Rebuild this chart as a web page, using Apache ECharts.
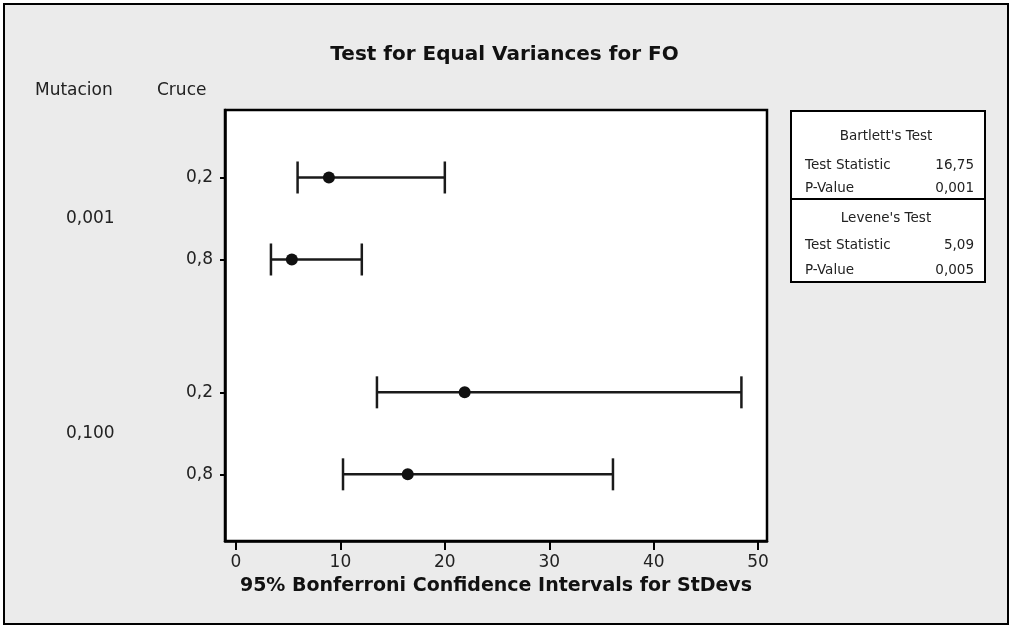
<!DOCTYPE html>
<html>
<head>
<meta charset="utf-8">
<script src="https://cdn.jsdelivr.net/npm/echarts@6/dist/echarts.min.js"></script>
<style>
  html, body { margin: 0; padding: 0; background: #fff; }
  #frame { position: absolute; left: 3px; top: 3px; width: 1002px; height: 618px; background: #ebebeb; border: 2px solid #000; }
  #main { position: absolute; left: 0; top: 0; width: 1009px; height: 627px; }
</style>
</head>
<body>
<div id="frame"></div>
<div id="main"></div>
<script>
// groups (Mutacion) and rows inside each group (Cruce)
const mutacion = ['0,001', '0,100'];
const cruce = ['0,2', '0,8'];
// one entry per row, in order: 0,001/0,2 - 0,001/0,8 - 0,100/0,2 - 0,100/0,8
const lower = [5.9, 3.35, 13.5, 10.25];
const stdev = [8.9, 5.35, 21.9, 16.45];
const upper = [20.0, 12.05, 48.4, 36.1];
const xTicks = [0, 10, 20, 30, 40, 50];
// test results box
const bartlettStats = ['16,75', '0,001'];
const leveneStats = ['5,09', '0,005'];

const FONT = '"DejaVu Sans", sans-serif';
const groupGap = 0.62; // extra space between Mutacion groups

const rowPos = [];
const rowLabel = {};
mutacion.forEach((m, gi) => {
  cruce.forEach((c, ci) => {
    const p = +(gi * (cruce.length + groupGap) + ci).toFixed(3);
    rowPos.push(p);
    rowLabel[p] = c;
  });
});

const barData = lower.map((lo, i) => [lo, upper[i], rowPos[i]]);
const dotData = stdev.map((v, i) => [v, rowPos[i]]);

const chart = echarts.init(document.getElementById('main'));

const option = {
  backgroundColor: 'transparent',
  animation: false,
  title: {
    text: 'Test for Equal Variances for FO',
    left: 'center',
    top: 40,
    textStyle: { fontFamily: FONT, fontSize: 20, fontWeight: 'bold', color: '#111' }
  },
  grid: {
    left: 225, right: 242, top: 110, bottom: 86,
    show: true, backgroundColor: '#fff', borderColor: '#000', borderWidth: 2.5
  },
  xAxis: {
    type: 'value',
    min: -1.05,
    max: 50.85,
    name: '95% Bonferroni Confidence Intervals for StDevs',
    nameLocation: 'middle',
    nameGap: 36,
    nameTextStyle: { fontFamily: FONT, fontSize: 19, fontWeight: 'bold', color: '#111' },
    axisLine: { onZero: false, lineStyle: { color: '#000', width: 2.5 } },
    axisTick: { customValues: xTicks, length: 9, lineStyle: { color: '#000', width: 2 } },
    axisLabel: { customValues: xTicks, margin: 13, fontFamily: FONT, fontSize: 17, color: '#222' },
    splitLine: { show: false }
  },
  yAxis: {
    type: 'value',
    inverse: true,
    min: -0.823,
    max: 4.433,
    axisLine: { show: true, onZero: false, lineStyle: { color: '#000', width: 2.5 } },
    axisTick: { show: true, customValues: rowPos, length: 5, lineStyle: { color: '#000', width: 2 } },
    axisLabel: {
      customValues: rowPos,
      margin: 12,
      fontFamily: FONT, fontSize: 17, color: '#222',
      formatter: v => rowLabel[+v.toFixed(3)] || ''
    },
    splitLine: { show: false }
  },
  series: [
    {
      type: 'custom',
      data: barData,
      encode: { x: [0, 1], y: 2 },
      renderItem: (params, api) => {
        const p0 = api.coord([api.value(0), api.value(2)]);
        const p1 = api.coord([api.value(1), api.value(2)]);
        const h = 16;
        const style = { stroke: '#1a1a1a', lineWidth: 2.5 };
        return {
          type: 'group',
          children: [
            { type: 'line', shape: { x1: p0[0], y1: p0[1], x2: p1[0], y2: p1[1] }, style },
            { type: 'line', shape: { x1: p0[0], y1: p0[1] - h, x2: p0[0], y2: p0[1] + h }, style },
            { type: 'line', shape: { x1: p1[0], y1: p1[1] - h, x2: p1[0], y2: p1[1] + h }, style }
          ]
        };
      }
    },
    {
      type: 'scatter',
      data: dotData,
      symbol: 'circle',
      symbolSize: 12,
      itemStyle: { color: '#111', opacity: 1 },
      z: 3
    }
  ]
};
chart.setOption(option);

// labels drawn outside the grid: column headers, group labels and the test box
const txt = (text, x, y, align, size, weight) => ({
  type: 'text', x, y,
  style: {
    text, align: align, verticalAlign: 'middle',
    fontFamily: FONT, fontSize: size || 17, fontWeight: weight || 'normal', fill: '#222'
  }
});

const graphics = [
  txt('Mutacion', 35, 91, 'left'),
  txt('Cruce', 157, 91, 'left')
];
mutacion.forEach((m, gi) => {
  const first = rowPos[gi * cruce.length];
  const last = rowPos[gi * cruce.length + cruce.length - 1];
  const y = chart.convertToPixel({ yAxisIndex: 0 }, (first + last) / 2);
  graphics.push(txt(m, 66, y, 'left'));
});

const bx = 791, by = 111, bw = 194, bh = 171;
graphics.push(
  { type: 'rect', shape: { x: bx, y: by, width: bw, height: bh }, style: { fill: '#fff', stroke: '#000', lineWidth: 2 } },
  { type: 'line', shape: { x1: bx, y1: 199, x2: bx + bw, y2: 199 }, style: { stroke: '#000', lineWidth: 2 } },
  txt("Bartlett's Test", 886, 136, 'center', 13.5),
  txt('Test Statistic', 805, 165, 'left', 13.5),
  txt(bartlettStats[0], 974, 165, 'right', 13.5),
  txt('P-Value', 805, 188, 'left', 13.5),
  txt(bartlettStats[1], 974, 188, 'right', 13.5),
  txt("Levene's Test", 886, 218, 'center', 13.5),
  txt('Test Statistic', 805, 245, 'left', 13.5),
  txt(leveneStats[0], 974, 245, 'right', 13.5),
  txt('P-Value', 805, 270, 'left', 13.5),
  txt(leveneStats[1], 974, 270, 'right', 13.5)
);

chart.setOption({ graphic: graphics });
</script>
</body>
</html>
